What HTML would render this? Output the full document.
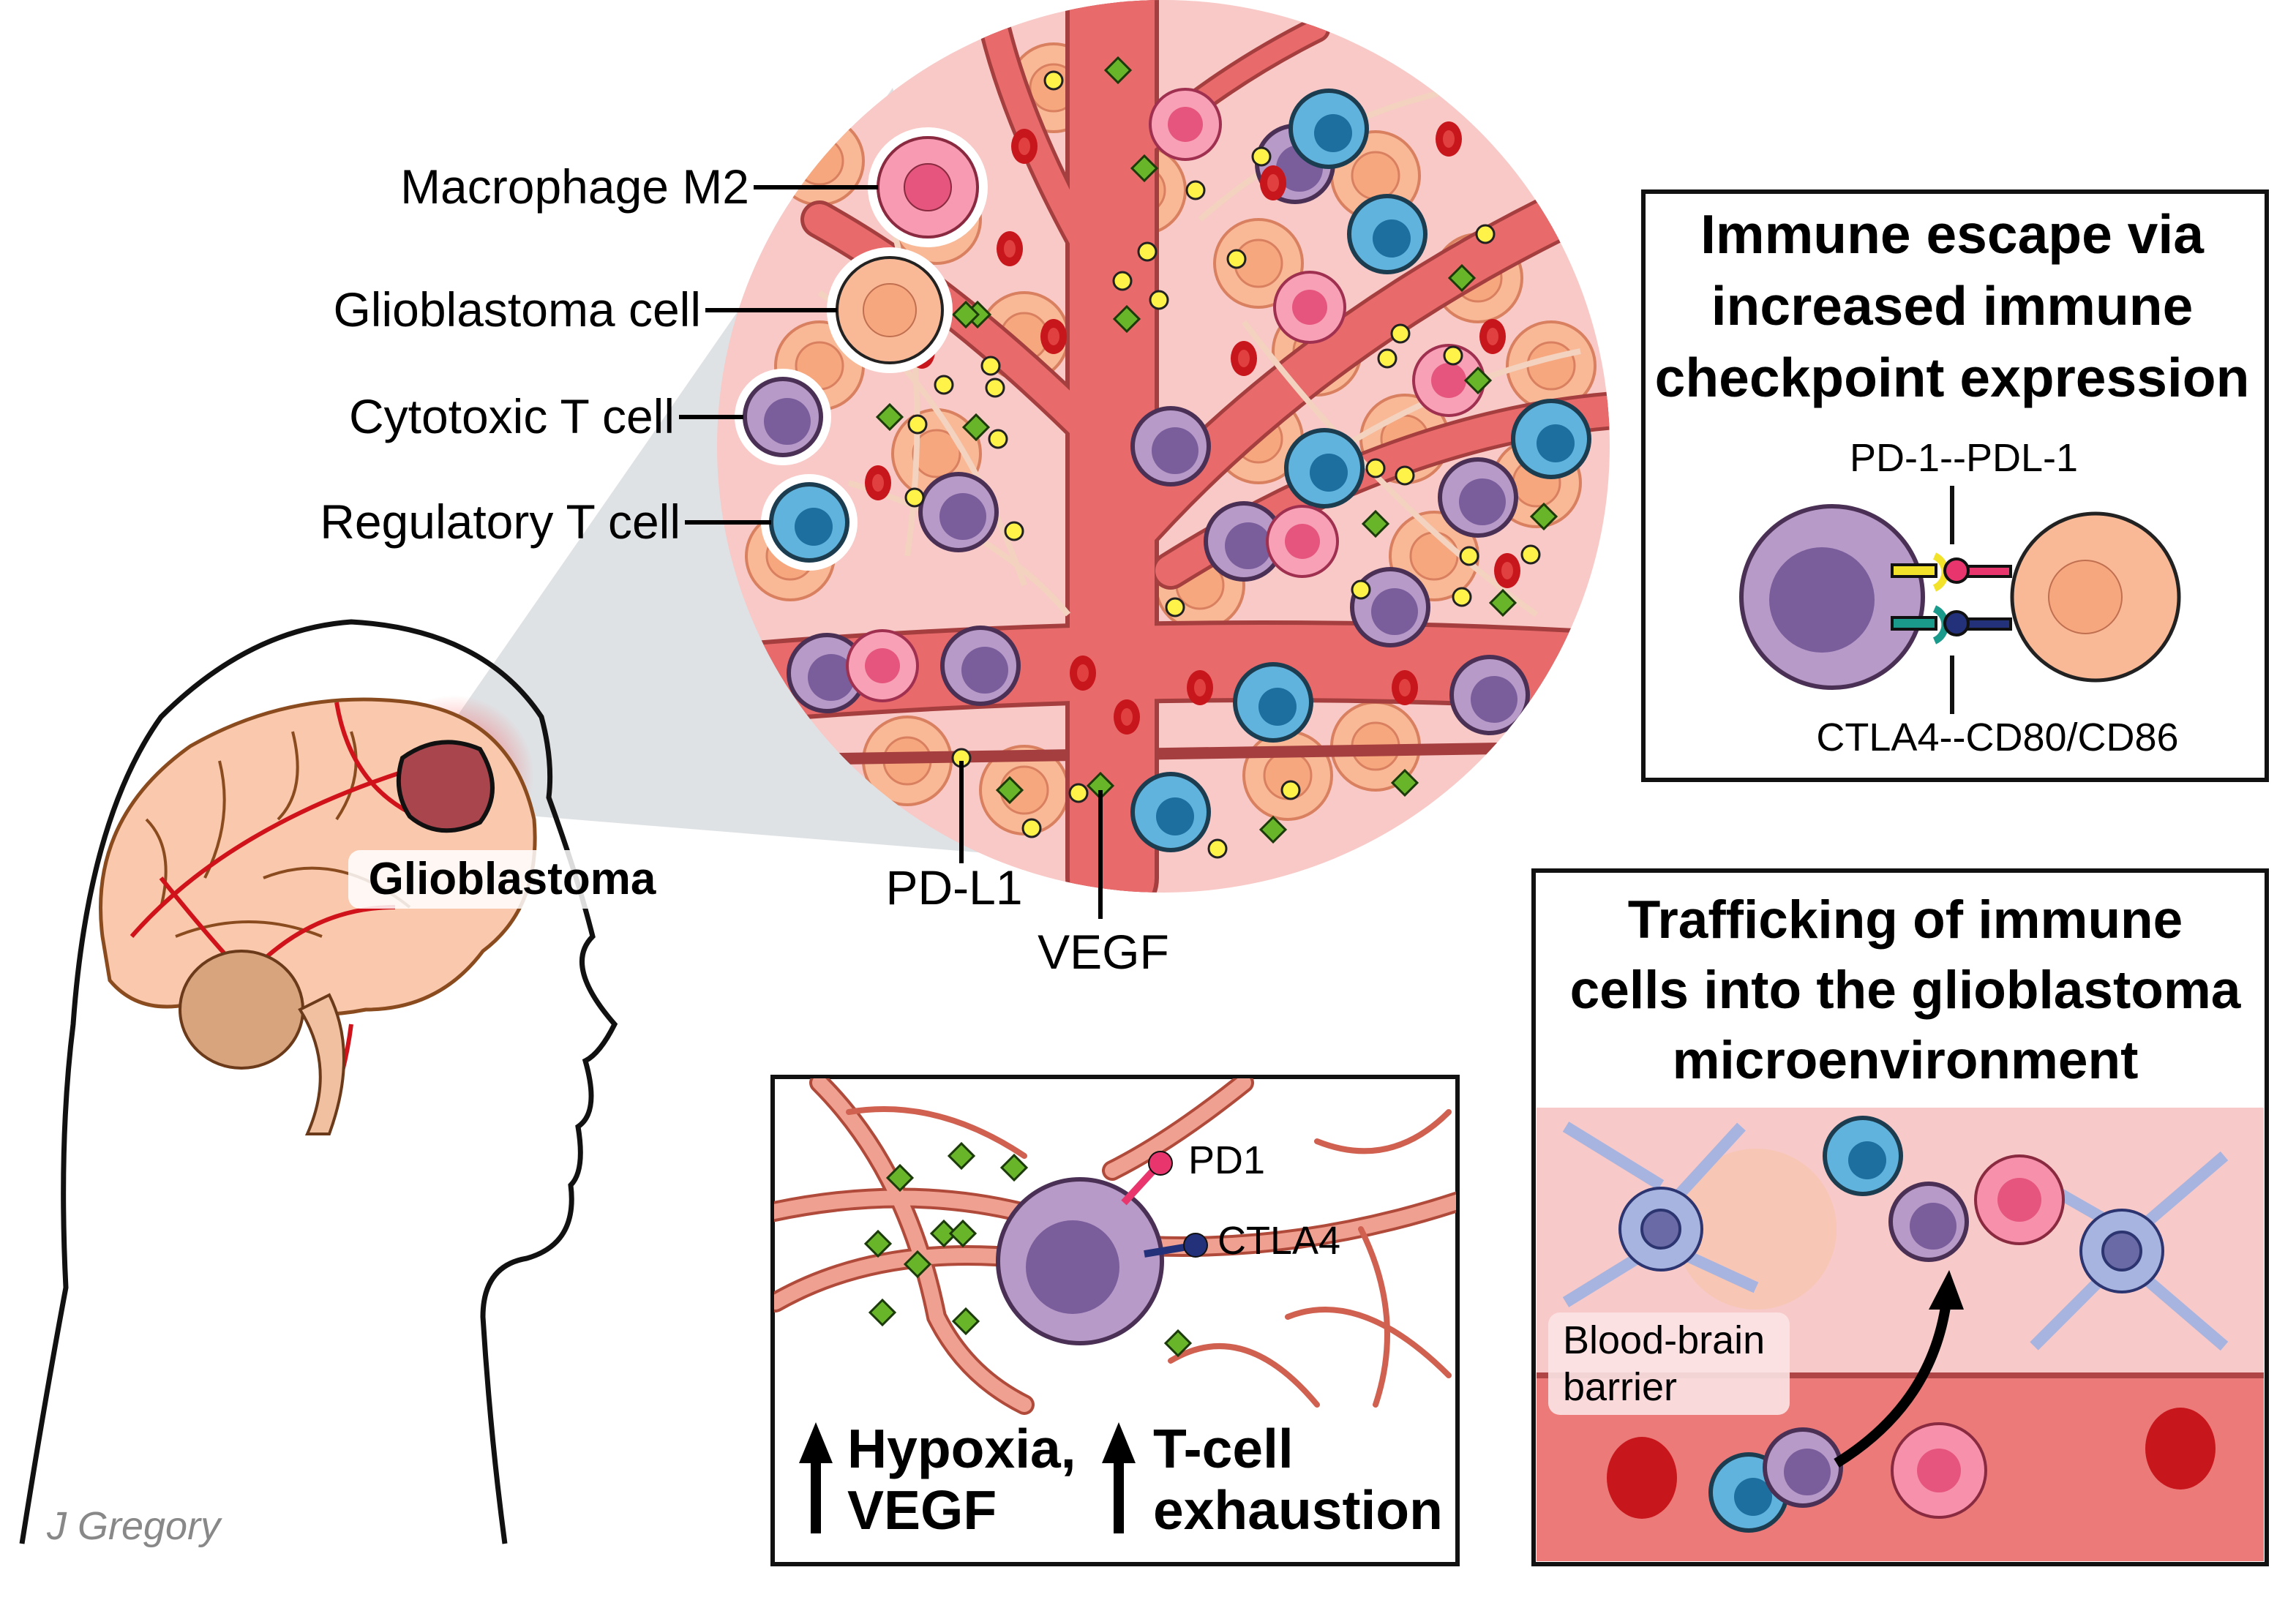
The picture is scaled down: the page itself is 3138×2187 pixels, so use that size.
<!DOCTYPE html>
<html><head><meta charset="utf-8"><style>
html,body{margin:0;padding:0;background:#fff;}
svg{display:block;}
text{font-family:"Liberation Sans",Arial,sans-serif;}
</style></head><body>
<svg width="3138" height="2187" viewBox="0 0 1569 1093.5" xmlns="http://www.w3.org/2000/svg">
<defs>
<clipPath id="cc"><circle cx="795" cy="305" r="305"/></clipPath>
<clipPath id="b3"><rect x="529" y="737" width="466" height="230"/></clipPath>
<radialGradient id="glow"><stop offset="0" stop-color="#ff2020" stop-opacity="0.7"/><stop offset="1" stop-color="#ff2020" stop-opacity="0"/></radialGradient>
<g id="gb"><circle r="30" fill="#f9b996" stroke="#d98060" stroke-width="2"/><circle r="16" fill="#f7a77e" stroke="#d98060" stroke-width="1.5"/></g>
<g id="tc"><circle r="26" fill="#b89ac8" stroke="#4b3055" stroke-width="3"/><circle cx="3" cy="3" r="16" fill="#7a5e9c"/></g>
<g id="bc"><circle r="26" fill="#5fb3dc" stroke="#1c3c50" stroke-width="3"/><circle cx="3" cy="3" r="13" fill="#1c6f9e"/></g>
<g id="mac"><circle r="24" fill="#f7a0b6" stroke="#a03050" stroke-width="2"/><circle r="12" fill="#e6557d"/></g>
<g id="yd"><circle r="6" fill="#fff34a" stroke="#222" stroke-width="1.5"/></g>
<g id="gd"><rect x="-6" y="-6" width="12" height="12" transform="rotate(45)" fill="#69b52a" stroke="#1c3b0a" stroke-width="1.5"/></g>
<g id="rbc"><ellipse rx="9" ry="12" fill="#c8161d"/><ellipse rx="4" ry="6" fill="#e04040"/></g>
</defs>

<polygon points="305,500 610,60 760,590 330,555" fill="#dfe2e5"/>

<circle cx="795" cy="305" r="305" fill="#f8c9c6"/>
<g clip-path="url(#cc)">
<g>
<use href="#gb" x="560" y="110"/><use href="#gb" x="640" y="150"/><use href="#gb" x="720" y="60"/><use href="#gb" x="780" y="130"/>
<use href="#gb" x="860" y="180"/><use href="#gb" x="940" y="120"/><use href="#gb" x="1010" y="190"/><use href="#gb" x="560" y="250"/>
<use href="#gb" x="640" y="310"/><use href="#gb" x="540" y="380"/><use href="#gb" x="860" y="300"/><use href="#gb" x="960" y="300"/>
<use href="#gb" x="1050" y="330"/><use href="#gb" x="820" y="400"/><use href="#gb" x="980" y="380"/><use href="#gb" x="620" y="520"/>
<use href="#gb" x="700" y="540"/><use href="#gb" x="880" y="530"/><use href="#gb" x="940" y="510"/><use href="#gb" x="760" y="560"/>
<use href="#gb" x="700" y="230"/><use href="#gb" x="900" y="240"/><use href="#gb" x="1060" y="250"/>
</g>
<g fill="none" stroke="#a53e3e" stroke-linecap="round">
<path d="M760 600 L760 0" stroke-width="64"/>
<path d="M470 470 Q800 440 1120 460" stroke-width="56"/>
<path d="M760 380 Q880 240 1060 150" stroke-width="34"/>
<path d="M750 300 Q650 200 560 150" stroke-width="26"/>
<path d="M760 200 Q700 100 680 20" stroke-width="22"/>
<path d="M800 390 Q960 290 1110 280" stroke-width="26"/>
<path d="M760 120 Q820 60 900 20" stroke-width="18"/>
<path d="M480 520 L1120 510" stroke-width="8"/>
</g>
<g fill="none" stroke="#e96a6a" stroke-linecap="round">
<path d="M760 600 L760 0" stroke-width="58"/>
<path d="M470 470 Q800 440 1120 460" stroke-width="50"/>
<path d="M760 380 Q880 240 1060 150" stroke-width="29"/>
<path d="M750 300 Q650 200 560 150" stroke-width="21"/>
<path d="M760 200 Q700 100 680 20" stroke-width="17"/>
<path d="M800 390 Q960 290 1110 280" stroke-width="21"/>
<path d="M760 120 Q820 60 900 20" stroke-width="13"/>
</g>
<g fill="none" stroke="#f3d2bf" stroke-width="4">
<path d="M560 200 Q650 260 700 400"/><path d="M600 120 Q640 240 620 380"/><path d="M850 220 Q950 350 1050 420"/>
<path d="M880 330 Q980 260 1080 240"/><path d="M820 150 Q900 80 1000 60"/><path d="M580 330 Q680 360 730 420"/>
</g>
<g>
<use href="#tc" x="885" y="112"/><use href="#tc" x="800" y="305"/><use href="#tc" x="670" y="455"/><use href="#tc" x="565" y="460"/>
<use href="#tc" x="950" y="415"/><use href="#tc" x="1018" y="475"/><use href="#tc" x="850" y="370"/><use href="#tc" x="655" y="350"/>
<use href="#tc" x="1010" y="340"/>
<use href="#bc" x="908" y="88"/><use href="#bc" x="948" y="160"/><use href="#bc" x="905" y="320"/><use href="#bc" x="870" y="480"/>
<use href="#bc" x="800" y="555"/><use href="#bc" x="1060" y="300"/>
<use href="#mac" x="603" y="455"/><use href="#mac" x="895" y="210"/><use href="#mac" x="890" y="370"/><use href="#mac" x="990" y="260"/><use href="#mac" x="810" y="85"/>
</g>
<g>
<use href="#rbc" x="700" y="100"/><use href="#rbc" x="720" y="230"/><use href="#rbc" x="690" y="170"/><use href="#rbc" x="850" y="245"/>
<use href="#rbc" x="740" y="460"/><use href="#rbc" x="820" y="470"/><use href="#rbc" x="770" y="490"/><use href="#rbc" x="990" y="95"/>
<use href="#rbc" x="1030" y="390"/><use href="#rbc" x="600" y="330"/><use href="#rbc" x="960" y="470"/><use href="#rbc" x="870" y="125"/>
<use href="#rbc" x="1020" y="230"/><use href="#rbc" x="630" y="240"/>
</g>
<g>
<use href="#yd" x="720" y="55"/><use href="#yd" x="817" y="130"/><use href="#yd" x="767" y="192"/><use href="#yd" x="784" y="172"/>
<use href="#yd" x="792" y="205"/><use href="#yd" x="845" y="177"/><use href="#yd" x="862" y="107"/><use href="#yd" x="677" y="250"/>
<use href="#yd" x="680" y="265"/><use href="#yd" x="645" y="263"/><use href="#yd" x="627" y="290"/><use href="#yd" x="682" y="300"/>
<use href="#yd" x="625" y="340"/><use href="#yd" x="693" y="363"/><use href="#yd" x="957" y="228"/><use href="#yd" x="948" y="245"/>
<use href="#yd" x="993" y="243"/><use href="#yd" x="1015" y="160"/><use href="#yd" x="940" y="320"/><use href="#yd" x="960" y="325"/>
<use href="#yd" x="1004" y="380"/><use href="#yd" x="1046" y="379"/><use href="#yd" x="999" y="408"/><use href="#yd" x="930" y="403"/>
<use href="#yd" x="803" y="415"/><use href="#yd" x="657" y="518"/><use href="#yd" x="705" y="566"/><use href="#yd" x="832" y="580"/>
<use href="#yd" x="882" y="540"/><use href="#yd" x="737" y="542"/>
<use href="#gd" x="764" y="48"/><use href="#gd" x="782" y="115"/><use href="#gd" x="770" y="218"/><use href="#gd" x="668" y="215"/>
<use href="#gd" x="608" y="285"/><use href="#gd" x="667" y="292"/><use href="#gd" x="999" y="190"/><use href="#gd" x="1010" y="260"/>
<use href="#gd" x="940" y="358"/><use href="#gd" x="1055" y="353"/><use href="#gd" x="1027" y="412"/><use href="#gd" x="690" y="540"/>
<use href="#gd" x="752" y="537"/><use href="#gd" x="870" y="567"/><use href="#gd" x="960" y="535"/><use href="#gd" x="660" y="215"/>
</g>
</g>

<g stroke="#fff" stroke-width="6">
<circle cx="634" cy="128" r="38" fill="#f79ab2"/><circle cx="608" cy="212" r="40" fill="#f9b996"/>
<circle cx="535" cy="285" r="30" fill="#b89ac8"/><circle cx="553" cy="357" r="30" fill="#5fb3dc"/>
</g>
<circle cx="634" cy="128" r="34" fill="#f79ab2" stroke="#8a2a40" stroke-width="2"/><circle cx="634" cy="128" r="16" fill="#e6557d" stroke="#8a2a40"/>
<circle cx="608" cy="212" r="36" fill="#f9b996" stroke="#222" stroke-width="2"/><circle cx="608" cy="212" r="18" fill="#f7a77e" stroke="#c07050"/>
<use href="#tc" x="535" y="285"/><use href="#bc" x="553" y="357"/>
<g stroke="#000" stroke-width="3">
<line x1="515" y1="128" x2="600" y2="128"/><line x1="482" y1="212" x2="572" y2="212"/>
<line x1="464" y1="285" x2="508" y2="285"/><line x1="468" y1="357" x2="527" y2="357"/>
<line x1="657" y1="520" x2="657" y2="590"/><line x1="752" y1="540" x2="752" y2="628"/>
</g>
<g font-size="33" fill="#000">
<text x="512" y="139" text-anchor="end">Macrophage M2</text>
<text x="479" y="223" text-anchor="end">Glioblastoma cell</text>
<text x="461" y="296" text-anchor="end">Cytotoxic T cell</text>
<text x="465" y="368" text-anchor="end">Regulatory T cell</text>
<text x="652" y="618" text-anchor="middle">PD-L1</text>
<text x="754" y="662" text-anchor="middle">VEGF</text>
</g>

<path d="M15 1055 Q30 960 45 880 Q40 780 50 700 Q60 560 110 490 Q170 430 240 425 Q330 430 370 490 Q378 520 375 545 Q395 600 405 640 Q385 660 420 700 Q410 720 400 725 Q410 760 395 770 Q400 800 390 810 Q395 850 360 860 Q330 865 330 900 Q335 980 345 1055" fill="none" stroke="#111" stroke-width="3.5"/>
<circle cx="310" cy="530" r="55" fill="url(#glow)"/>
<path d="M70 640 Q60 560 130 510 Q200 470 280 480 Q350 490 365 560 Q370 620 330 650 Q300 690 250 690 Q200 700 150 680 Q100 700 75 670 Z" fill="#f9c8ad" stroke="#8a4b1e" stroke-width="2.5"/>
<g fill="none" stroke="#8a4b1e" stroke-width="2"><path d="M100 560 Q120 580 110 620"/><path d="M150 520 Q160 560 140 600"/><path d="M200 500 Q210 540 190 560"/><path d="M240 500 Q250 530 230 560"/><path d="M120 640 Q170 620 220 640"/><path d="M180 600 Q230 580 280 620"/></g>
<g fill="none" stroke="#d0121a" stroke-width="3"><path d="M90 640 Q160 560 300 520"/><path d="M150 690 Q200 620 270 620"/><path d="M230 480 Q240 540 290 560"/><path d="M240 700 Q235 740 220 770"/><path d="M110 600 Q150 650 180 680"/></g>
<ellipse cx="165" cy="690" rx="42" ry="40" fill="#d8a47e" stroke="#6a3a1a" stroke-width="2"/>
<path d="M205 690 Q230 730 210 775 L225 775 Q245 720 225 680 Z" fill="#f0c0a0" stroke="#6a3a1a" stroke-width="2"/>
<path d="M275 518 Q300 500 328 512 Q345 540 328 562 Q300 575 280 558 Q268 540 275 518 Z" fill="#a8454d" stroke="#111" stroke-width="3"/>
<rect x="238" y="581" width="222" height="40" rx="8" fill="#fff" opacity="0.85"/>
<text x="350" y="611" font-size="31" font-weight="bold" text-anchor="middle">Glioblastoma</text>
<text x="32" y="1052" font-size="27" font-style="italic" fill="#888" font-family="Liberation Serif,serif">J Gregory</text>

<rect x="1123" y="131" width="426" height="402" fill="#fff" stroke="#111" stroke-width="3"/>
<g font-size="37.5" font-weight="bold" text-anchor="middle">
<text x="1334" y="173">Immune escape via</text><text x="1334" y="222">increased immune</text><text x="1334" y="271">checkpoint expression</text>
</g>
<text x="1342" y="322" font-size="27" text-anchor="middle">PD-1--PDL-1</text>
<text x="1365" y="513" font-size="27" text-anchor="middle">CTLA4--CD80/CD86</text>
<line x1="1334" y1="332" x2="1334" y2="372" stroke="#111" stroke-width="3"/>
<line x1="1334" y1="448" x2="1334" y2="488" stroke="#111" stroke-width="3"/>
<circle cx="1432" cy="408" r="57" fill="#f9b996" stroke="#222" stroke-width="2.5"/>
<circle cx="1425" cy="408" r="25" fill="#f7a77e" stroke="#c07050"/>
<circle cx="1252" cy="408" r="62" fill="#b89ac8" stroke="#4b3055" stroke-width="3"/>
<circle cx="1245" cy="410" r="36" fill="#7a5e9c"/>
<g stroke="#111" stroke-width="2">
<rect x="1293" y="386" width="30" height="8" fill="#f2e22a"/><path d="M1322 380 a12 12 0 0 1 0 22" fill="none" stroke="#f2e22a" stroke-width="5"/>
<rect x="1340" y="387" width="34" height="7" fill="#e8356d"/><circle cx="1337" cy="390" r="8" fill="#e8356d"/>
<rect x="1293" y="422" width="30" height="8" fill="#1a9a8a"/><path d="M1322 416 a12 12 0 0 1 0 22" fill="none" stroke="#1a9a8a" stroke-width="5"/>
<rect x="1340" y="423" width="34" height="7" fill="#23307a"/><circle cx="1337" cy="426" r="8" fill="#23307a"/>
</g>

<rect x="1048" y="595" width="501" height="474" fill="#fff" stroke="#111" stroke-width="3"/>
<rect x="1050" y="757" width="497" height="310" fill="#f7c9c8"/>
<rect x="1050" y="940" width="497" height="127" fill="#ec7a78"/>
<line x1="1050" y1="940" x2="1547" y2="940" stroke="#b04545" stroke-width="4"/>
<g font-size="36.5" font-weight="bold" text-anchor="middle">
<text x="1302" y="641">Trafficking of immune</text><text x="1302" y="689">cells into the glioblastoma</text><text x="1302" y="737">microenvironment</text>
</g>
<circle cx="1200" cy="840" r="55" fill="#f8c5b0" opacity="0.8"/>
<g stroke="#2c3570" stroke-width="2" fill="#a7b4e0">
<path d="M1135 810 L1070 770 M1135 850 L1070 890 M1135 830 L1190 770 M1135 850 L1200 880 M1450 840 L1380 800 M1450 850 L1520 790 M1450 860 L1390 920 M1450 860 L1520 920" stroke-width="8" stroke="#a7b4e0"/>
<circle cx="1135" cy="840" r="28"/><circle cx="1135" cy="840" r="13" fill="#6a6aa6"/>
<circle cx="1450" cy="855" r="28"/><circle cx="1450" cy="855" r="13" fill="#6a6aa6"/>
</g>
<use href="#bc" x="1273" y="790"/><use href="#tc" x="1318" y="835"/>
<circle cx="1380" cy="820" r="30" fill="#f790aa" stroke="#8a2a40" stroke-width="2"/><circle cx="1380" cy="820" r="15" fill="#e6557d"/>
<circle cx="1325" cy="1005" r="32" fill="#f790aa" stroke="#8a2a40" stroke-width="2"/><circle cx="1325" cy="1005" r="15" fill="#e6557d"/>
<use href="#bc" x="1195" y="1020"/><use href="#tc" x="1232" y="1003"/>
<ellipse cx="1122" cy="1010" rx="24" ry="28" fill="#c8161d"/><ellipse cx="1490" cy="990" rx="24" ry="28" fill="#c8161d"/>
<path d="M1255 1000 Q1320 960 1330 890" fill="none" stroke="#000" stroke-width="7"/>
<polygon points="1318,895 1342,895 1332,868" fill="#000"/>
<rect x="1058" y="897" width="165" height="70" rx="8" fill="#fbe3e3" opacity="0.9"/>
<text x="1068" y="925" font-size="27">Blood-brain</text><text x="1068" y="957" font-size="27">barrier</text>

<rect x="528" y="736" width="468" height="333" fill="#fff" stroke="#111" stroke-width="3"/>
<g clip-path="url(#b3)" fill="none" stroke-linecap="round">
<g stroke="#b04a3a" stroke-width="14"><path d="M520 830 Q650 800 760 850 Q880 860 1000 820"/><path d="M560 740 Q620 800 640 900 Q660 940 700 960"/><path d="M850 740 Q800 780 760 800"/><path d="M530 890 Q600 850 700 860"/></g>
<g stroke="#f0a090" stroke-width="10"><path d="M520 830 Q650 800 760 850 Q880 860 1000 820"/><path d="M560 740 Q620 800 640 900 Q660 940 700 960"/><path d="M850 740 Q800 780 760 800"/><path d="M530 890 Q600 850 700 860"/></g>
<g stroke="#d06050" stroke-width="4"><path d="M900 780 Q950 800 990 760"/><path d="M880 900 Q930 880 990 940"/><path d="M580 760 Q640 750 700 790"/><path d="M800 930 Q850 900 900 960"/><path d="M930 840 Q960 900 940 960"/></g>
</g>
<circle cx="738" cy="862" r="56" fill="#b89ac8" stroke="#4b3055" stroke-width="3"/>
<circle cx="733" cy="866" r="32" fill="#7a5e9c"/>
<line x1="768" y1="822" x2="790" y2="798" stroke="#e8356d" stroke-width="5"/><circle cx="793" cy="795" r="8" fill="#e8356d" stroke="#111"/>
<line x1="782" y1="857" x2="812" y2="852" stroke="#23307a" stroke-width="5"/><circle cx="817" cy="851" r="8" fill="#23307a" stroke="#111"/>
<text x="812" y="802" font-size="27">PD1</text>
<text x="832" y="857" font-size="27">CTLA4</text>
<g><use href="#gd" x="615" y="805"/><use href="#gd" x="657" y="790"/><use href="#gd" x="693" y="798"/><use href="#gd" x="600" y="850"/>
<use href="#gd" x="645" y="843"/><use href="#gd" x="658" y="843"/><use href="#gd" x="627" y="864"/><use href="#gd" x="603" y="897"/>
<use href="#gd" x="660" y="903"/><use href="#gd" x="805" y="918"/></g>
<g fill="#000"><rect x="554" y="996" width="7" height="52"/><polygon points="546,1000 569,1000 557.5,972"/>
<rect x="761" y="996" width="7" height="52"/><polygon points="753,1000 776,1000 764.5,972"/></g>
<g font-size="37.5" font-weight="bold">
<text x="579" y="1003">Hypoxia,</text><text x="579" y="1045">VEGF</text>
<text x="788" y="1003">T-cell</text><text x="788" y="1045">exhaustion</text>
</g>
</svg>
</body></html>
